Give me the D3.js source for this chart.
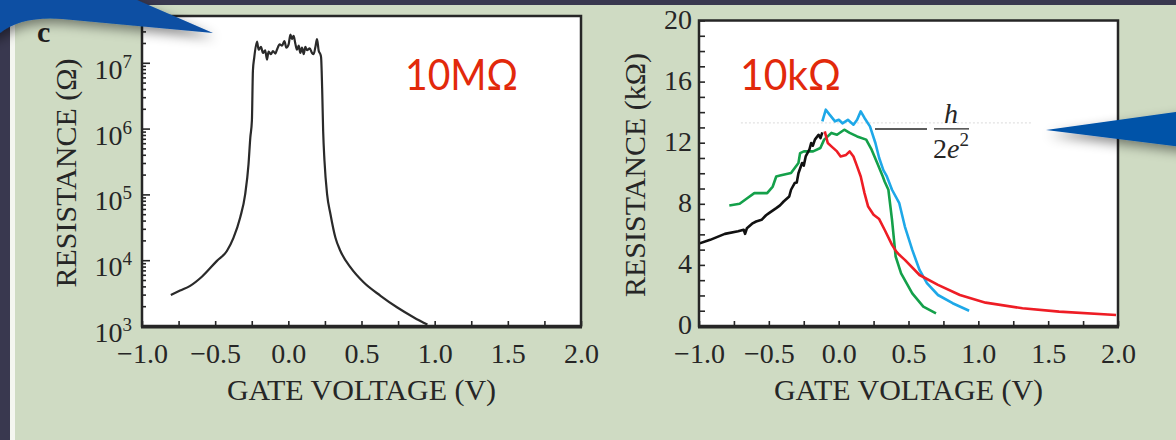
<!DOCTYPE html>
<html><head><meta charset="utf-8">
<script src="https://cdn.jsdelivr.net/npm/d3@7"></script>
<style>html,body{margin:0;padding:0;background:#39384f;overflow:hidden}
text{font-family:"Liberation Serif","Times New Roman",serif;}</style>
</head><body><svg id="chart" width="1176" height="440"></svg>
<script>
// ---------- DATA ----------
const xTickValues = [-1.0, -0.5, 0.0, 0.5, 1.0, 1.5, 2.0];
const leftYTickExponents = [3, 4, 5, 6, 7];
const rightYTickValues = [0, 4, 8, 12, 16, 20];

// Left panel: resistance (ohm) vs gate voltage (V)
const leftV = [-0.803,-0.74,-0.671,-0.591,-0.488,-0.42,-0.375,-0.329,-0.295,-0.272,-0.26,-0.249,-0.242,-0.233,
  -0.214,-0.203,-0.187,-0.173,-0.158,-0.146,-0.135,-0.119,-0.105,-0.089,-0.078,-0.059,-0.043,-0.027,-0.014,0.002,0.014,0.025,0.036,0.048,0.059,0.071,0.082,0.093,0.105,0.116,0.128,0.146,0.162,0.173,0.185,0.196,0.208,0.219,
  0.224,0.231,0.238,0.247,0.265,0.288,0.322,0.356,0.425,0.516,0.63,0.745,0.858,0.95];
const leftR = [2950,3450,4070,5600,9770,13800,21900,44700,1.0e5,2.88e5,7.24e5,1.32e6,7.6e6,1.2e7,
  2.09e7,1.58e7,1.74e7,1.41e7,1.55e7,1.12e7,1.48e7,1.35e7,1.51e7,1.38e7,1.58e7,1.91e7,1.82e7,2.14e7,1.70e7,1.91e7,2.69e7,2.29e7,2.57e7,1.95e7,1.58e7,1.82e7,1.41e7,1.70e7,1.35e7,1.74e7,1.55e7,1.66e7,1.41e7,1.35e7,1.74e7,2.29e7,1.51e7,1.35e7,
  1.2e7,4.17e6,9.1e5,3.24e5,1.0e5,5.0e4,2.19e4,1.38e4,7760,4570,2880,1910,1350,1050];

// Right panel: resistance (kilo-ohm) vs gate voltage (V)
const blackV = [-1.0,-0.92,-0.815,-0.72,-0.68,-0.67,-0.657,-0.62,-0.591,-0.552,-0.52,-0.499,-0.447,-0.42,-0.394,-0.354,-0.341,-0.315,-0.3,-0.288,-0.262,-0.25,-0.236,-0.21,-0.197,-0.185,-0.17,-0.144,-0.13,-0.117];
const blackR = [5.4,5.64,6.03,6.2,6.3,6.03,6.4,6.7,6.84,6.95,7.25,7.39,7.72,7.9,8.15,8.48,8.92,9.36,9.4,10.0,10.67,10.5,11.1,11.54,11.98,11.8,12.2,12.52,12.3,12.68];
const redV = [-0.0995,-0.078,-0.052,-0.012,0.014,0.053,0.079,0.106,0.132,0.158,0.185,0.211,0.25,0.29,0.329,0.382,0.41,0.434,0.474,0.579,0.711,0.868,1.052,1.316,1.578,1.986];
const redR = [12.74,11.98,11.76,11.43,11.1,11.2,11.43,11.1,10.45,9.79,8.7,7.82,7.28,7.0,6.3,5.31,4.9,4.66,4.33,3.34,2.69,2.03,1.53,1.16,0.94,0.72];
const greenV = [-0.783,-0.709,-0.65,-0.604,-0.512,-0.472,-0.447,-0.42,-0.341,-0.288,-0.276,-0.249,-0.183,-0.131,-0.104,-0.052,-0.012,0.04,0.079,0.132,0.197,0.236,0.276,0.316,0.329,0.356,0.382,0.408,0.447,0.527,0.606,0.697];
const greenR = [7.89,8.0,8.4,8.7,8.7,9.13,9.79,9.85,10.01,10.67,11.32,11.43,11.43,11.65,12.2,12.64,12.52,12.85,12.64,12.41,12.2,11.54,10.67,9.79,9.46,8.92,6.95,4.55,3.45,2.14,1.27,0.83];
const blueV = [-0.117,-0.092,-0.065,-0.026,0.001,0.027,0.066,0.106,0.132,0.158,0.185,0.224,0.263,0.29,0.32,0.345,0.382,0.434,0.474,0.527,0.579,0.632,0.711,0.816,0.934];
const blueR = [13.4,14.16,13.84,13.4,13.5,13.27,13.5,13.18,13.5,14.05,13.62,13.07,11.98,11.0,10.2,9.79,8.92,8.04,6.51,4.98,3.67,2.8,2.03,1.49,1.0];
const quantumLevel = 13.3; // faint dotted h/2e^2 guide
const annotationLevel = 12.9;

// ---------- DRAW ----------
const svg = d3.select("#chart");
const defs = svg.append("defs");
const sh = defs.append("filter").attr("id","shadow").attr("x","-50%").attr("y","-50%").attr("width","200%").attr("height","200%");
sh.append("feDropShadow").attr("dx",2).attr("dy",5).attr("stdDeviation",6).attr("flood-color","#000").attr("flood-opacity",0.45);

svg.append("rect").attr("width",1176).attr("height",440).attr("fill","#39384f");
svg.append("rect").attr("x",10).attr("y",5).attr("width",1166).attr("height",435).attr("fill","#f4f6f0");
svg.append("rect").attr("x",15).attr("y",5).attr("width",1161).attr("height",435).attr("fill","#cfdbc3");

const ink = "#262626";
const fmt = d3.format(".1f");

// ----- Left panel -----
const L = {x0:142, x1:581, y0:16, y1:326};
const xL = d3.scaleLinear().domain([-1,2]).range([L.x0,L.x1]);
const yL = d3.scaleLog().domain([1e3, 5.14e7]).range([L.y1,L.y0]);
svg.append("rect").attr("x",L.x0).attr("y",L.y0).attr("width",L.x1-L.x0).attr("height",L.y1-L.y0).attr("fill","#fff");
defs.append("clipPath").attr("id","clipL").append("rect").attr("x",L.x0).attr("y",L.y0).attr("width",L.x1-L.x0).attr("height",L.y1-L.y0);

const leftData = leftV.map((v,i)=>[v,leftR[i]]);
svg.append("path").datum(leftData).attr("clip-path","url(#clipL)")
  .attr("fill","none").attr("stroke","#2a2a2a").attr("stroke-width",2.2).attr("stroke-linejoin","round")
  .attr("d", d3.line().curve(d3.curveMonotoneX).x(d=>xL(d[0])).y(d=>yL(d[1])));

const xTicksAll = d3.range(-1, 2.001, 0.25);
function styleAxis(g){ g.select(".domain").remove(); g.selectAll("line").attr("stroke",ink).attr("stroke-width",1.6);
  g.selectAll("text").attr("fill",ink).style("font-family","'Liberation Serif',serif").style("font-size","28px"); }

svg.append("g").attr("transform",`translate(0,${L.y1})`)
  .call(d3.axisBottom(xL).tickValues(xTicksAll).tickSize(-5).tickPadding(17)
    .tickFormat(d => xTickValues.some(t=>Math.abs(t-d)<1e-9) ? fmt(d) : ""))
  .call(styleAxis);

const logMinor = [];
leftYTickExponents.forEach(e => { for (let m=2;m<=9;m++){ const v=m*Math.pow(10,e); if (v<=5.14e7) logMinor.push(v);} });
svg.append("g").attr("transform",`translate(${L.x0},0)`)
  .call(d3.axisLeft(yL).tickValues(logMinor).tickSize(-4).tickFormat(""))
  .call(styleAxis);
svg.append("g").attr("transform",`translate(${L.x0},0)`)
  .call(d3.axisLeft(yL).tickValues(leftYTickExponents.map(e=>Math.pow(10,e))).tickSize(-8).tickFormat(""))
  .call(styleAxis);
leftYTickExponents.forEach(e => {
  const t = svg.append("text").attr("x",132).attr("y",yL(Math.pow(10,e))+16).attr("text-anchor","end").attr("fill",ink).style("font-size","28px");
  t.append("tspan").text("10");
  t.append("tspan").attr("dy",-11).style("font-size","19px").text(e);
});
// frame
svg.append("rect").attr("x",L.x0).attr("y",L.y0).attr("width",L.x1-L.x0).attr("height",L.y1-L.y0)
  .attr("fill","none").attr("stroke",ink).attr("stroke-width",2.5);
svg.append("line").attr("x1",L.x0-1).attr("x2",L.x1+1).attr("y1",L.y1+1).attr("y2",L.y1+1).attr("stroke",ink).attr("stroke-width",3);

svg.append("text").attr("x",(L.x0+L.x1)/2).attr("y",400).attr("text-anchor","middle").attr("fill",ink).style("font-size","30px").text("GATE VOLTAGE (V)");
svg.append("text").attr("transform","translate(76,173) rotate(-90)").attr("text-anchor","middle").attr("fill",ink).style("font-size","30px").text("RESISTANCE (Ω)");
svg.append("text").attr("x",37).attr("y",42).attr("fill","#1e1e1e").style("font-size","30px").style("font-weight","bold").text("c");
svg.append("text").attr("x",405).attr("y",90).attr("fill","#e2290b").style("font-family","Lato,'Open Sans',sans-serif").style("font-size","43px")
  .attr("textLength",113).attr("lengthAdjust","spacingAndGlyphs").text("10MΩ");

// ----- Right panel -----
const R = {x0:699, x1:1118, y0:20.5, y1:326};
const xR = d3.scaleLinear().domain([-1,2]).range([R.x0,R.x1]);
const yR = d3.scaleLinear().domain([0,20]).range([R.y1,R.y0]);
svg.append("rect").attr("x",R.x0).attr("y",R.y0).attr("width",R.x1-R.x0).attr("height",R.y1-R.y0).attr("fill","#fff");
defs.append("clipPath").attr("id","clipR").append("rect").attr("x",R.x0).attr("y",R.y0).attr("width",R.x1-R.x0).attr("height",R.y1-R.y0);

svg.append("line").attr("x1",xR(-0.7)).attr("x2",xR(1.38)).attr("y1",yR(quantumLevel)).attr("y2",yR(quantumLevel))
  .attr("stroke","#e2e2e2").attr("stroke-width",1.4).attr("stroke-dasharray","2,2");

const lineR = d3.line().x(d=>xR(d[0])).y(d=>yR(d[1]));
const series = [
  {v:greenV, r:greenR, c:"#14a04a"},
  {v:blueV, r:blueR, c:"#1ea8e8"},
  {v:redV, r:redR, c:"#ee1d25"},
  {v:blackV, r:blackR, c:"#111111"}
];
series.forEach(s => {
  svg.append("path").datum(s.v.map((v,i)=>[v,s.r[i]])).attr("clip-path","url(#clipR)")
    .attr("fill","none").attr("stroke",s.c).attr("stroke-width",2.6).attr("stroke-linejoin","round").attr("d",lineR);
});

svg.append("g").attr("transform",`translate(0,${R.y1})`)
  .call(d3.axisBottom(xR).tickValues(xTicksAll).tickSize(-5).tickPadding(17)
    .tickFormat(d => xTickValues.some(t=>Math.abs(t-d)<1e-9) ? fmt(d) : ""))
  .call(styleAxis);
svg.append("g").attr("transform",`translate(${R.x0},0)`)
  .call(d3.axisLeft(yR).tickValues(d3.range(0,20.5,1)).tickSize(-6).tickPadding(7)
    .tickFormat(d => rightYTickValues.includes(d) ? d : ""))
  .call(styleAxis)
  .call(g => g.selectAll("text").attr("dy","0.28em"));
svg.append("rect").attr("x",R.x0).attr("y",R.y0).attr("width",R.x1-R.x0).attr("height",R.y1-R.y0)
  .attr("fill","none").attr("stroke",ink).attr("stroke-width",2.5);
svg.append("line").attr("x1",R.x0-1).attr("x2",R.x1+1).attr("y1",R.y1+1).attr("y2",R.y1+1).attr("stroke",ink).attr("stroke-width",3);

svg.append("text").attr("x",(R.x0+R.x1)/2).attr("y",400).attr("text-anchor","middle").attr("fill",ink).style("font-size","30px").text("GATE VOLTAGE (V)");
svg.append("text").attr("transform","translate(645,175) rotate(-90)").attr("text-anchor","middle").attr("fill",ink).style("font-size","30px").text("RESISTANCE (kΩ)");
svg.append("text").attr("x",740).attr("y",90).attr("fill","#e2290b").style("font-family","Lato,'Open Sans',sans-serif").style("font-size","43px")
  .attr("textLength",101).attr("lengthAdjust","spacingAndGlyphs").text("10kΩ");

// h/2e^2 annotation
const ay = yR(annotationLevel);
svg.append("line").attr("x1",875).attr("x2",927).attr("y1",ay).attr("y2",ay).attr("stroke",ink).attr("stroke-width",1.5);
svg.append("line").attr("x1",934).attr("x2",969).attr("y1",ay).attr("y2",ay).attr("stroke",ink).attr("stroke-width",1.3);
svg.append("text").attr("x",951).attr("y",ay-6).attr("text-anchor","middle").attr("fill",ink).style("font-size","28px").style("font-style","italic").text("h");
const den = svg.append("text").attr("x",951).attr("y",ay+29).attr("text-anchor","middle").attr("fill",ink).style("font-size","28px");
den.append("tspan").text("2");
den.append("tspan").style("font-style","italic").text("e");
den.append("tspan").attr("dy",-12).style("font-size","19px").text("2");

// ----- Blue callout arrows -----
svg.append("path").attr("d","M-20,-20 L120,-20 L137,0 L213,33 L62,19 Q22,16 0,33 L-20,40 Z")
  .attr("fill","#0a4fa3").attr("filter","url(#shadow)");
svg.append("path").attr("d","M1046,130 L1190,110 L1190,148 Z")
  .attr("fill","#0652a8").attr("filter","url(#shadow)");
</script></body></html>
